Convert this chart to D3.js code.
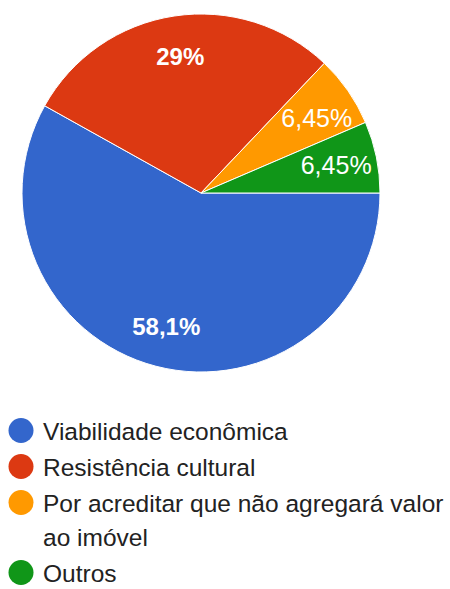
<!DOCTYPE html>
<html>
<head>
<meta charset="utf-8">
<script src="https://cdn.jsdelivr.net/npm/d3@7"></script>
<style>
  html, body { margin: 0; padding: 0; background: #fff; }
  svg { display: block; }
</style>
</head>
<body>
<svg id="chart" width="450" height="589"></svg>
<script>
// Survey answers and their shares (percent)
const categories = [
  "Viabilidade econômica",
  "Resistência cultural",
  "Por acreditar que não agregará valor ao imóvel",
  "Outros"
];
const values = [58.1, 29, 6.45, 6.45];
const valueLabels = ["58,1%", "29%", "6,45%", "6,45%"];
const colors = ["#3366cc", "#dc3912", "#ff9900", "#109618"];

const W = 450, H = 589;
const cx = 201, cy = 193, R = 179;
const FONT = "'Liberation Sans', Arial, sans-serif";

const svg = d3.select("#chart");
const data = categories.map((c, i) => ({ name: c, value: values[i], label: valueLabels[i], color: colors[i] }));

// Slices start at 3 o'clock and run clockwise
const pie = d3.pie()
  .value(d => d.value)
  .sort(null)
  .startAngle(Math.PI / 2)
  .endAngle(Math.PI / 2 + 2 * Math.PI);
const arcs = pie(data);
const arc = d3.arc().innerRadius(0).outerRadius(R);

const g = svg.append("g").attr("transform", `translate(${cx},${cy})`);

g.selectAll("path.slice")
  .data(arcs)
  .join("path")
  .attr("class", "slice")
  .attr("d", arc)
  .attr("fill", d => d.data.color)
  .attr("stroke", "#ffffff")
  .attr("stroke-width", 1);

// Percentage labels: start near the centroid and slide until the text box sits inside the wedge
const angleOf = (x, y) => Math.atan2(x, -y);
function fits(box, a0, a1) {
  const corners = [[box.x0, box.y0], [box.x1, box.y0], [box.x0, box.y1], [box.x1, box.y1]];
  return corners.every(([x, y]) => {
    let a = angleOf(x, y);
    while (a < a0) a += 2 * Math.PI;
    while (a > a0 + 2 * Math.PI) a -= 2 * Math.PI;
    return a >= a0 && a <= a1;
  });
}

const labels = g.selectAll("text.pct")
  .data(arcs)
  .join("text")
  .attr("class", "pct")
  .attr("font-family", FONT)
  .attr("font-size", d => d.data.value > 10 ? 24 : 25)
  .attr("font-weight", d => d.data.value > 10 ? "bold" : "normal")
  .attr("fill", "#ffffff")
  .attr("text-anchor", "middle")
  .text(d => d.data.label);

labels.each(function (d) {
  const el = d3.select(this);
  const fs = +el.attr("font-size");
  const w = this.getComputedTextLength();
  const h = fs * 0.72;
  const mid = (d.startAngle + d.endAngle) / 2;
  const half = (d.endAngle - d.startAngle) / 2;
  let best = null;
  outer:
  for (let r = 138; r <= R - 5; r += 1) {
    for (let k = 0; k <= 40; k++) {
      for (const s of (k === 0 ? [0] : [1, -1])) {
        const a = mid + s * (k / 40) * half * 0.9;
        const x = r * Math.sin(a), y = -r * Math.cos(a);
        const box = { x0: x - w / 2, x1: x + w / 2, y0: y - h / 2, y1: y + h / 2 };
        if (fits(box, d.startAngle, d.endAngle)) { best = [x, y]; break outer; }
      }
    }
  }
  if (!best) best = [138 * Math.sin(mid), -138 * Math.cos(mid)];
  el.attr("x", best[0]).attr("y", best[1] + h / 2);
});

// Legend with wrapped entries
const legend = svg.append("g");
const legX = 43, dotX = 21, dotR = 12.5;
const legFs = 24.5, lineH = 34, entryGap = 36;
const maxW = W - legX - 3;
let baseline = 440;

data.forEach(d => {
  const t = legend.append("text")
    .attr("font-family", FONT)
    .attr("font-size", legFs)
    .attr("fill", "#222222")
    .attr("x", legX)
    .attr("y", baseline);
  const words = d.name.split(" ");
  let line = [];
  let tspan = t.append("tspan").attr("x", legX).attr("y", baseline);
  let lines = 1;
  words.forEach(wd => {
    line.push(wd);
    tspan.text(line.join(" "));
    if (tspan.node().getComputedTextLength() > maxW && line.length > 1) {
      line.pop();
      tspan.text(line.join(" "));
      line = [wd];
      tspan = t.append("tspan").attr("x", legX).attr("y", baseline + lines * lineH).text(wd);
      lines++;
    }
  });
  legend.append("circle")
    .attr("cx", dotX)
    .attr("cy", baseline - 9.5)
    .attr("r", dotR)
    .attr("fill", d.color);
  baseline += entryGap + (lines - 1) * lineH;
});
</script>
</body>
</html>
